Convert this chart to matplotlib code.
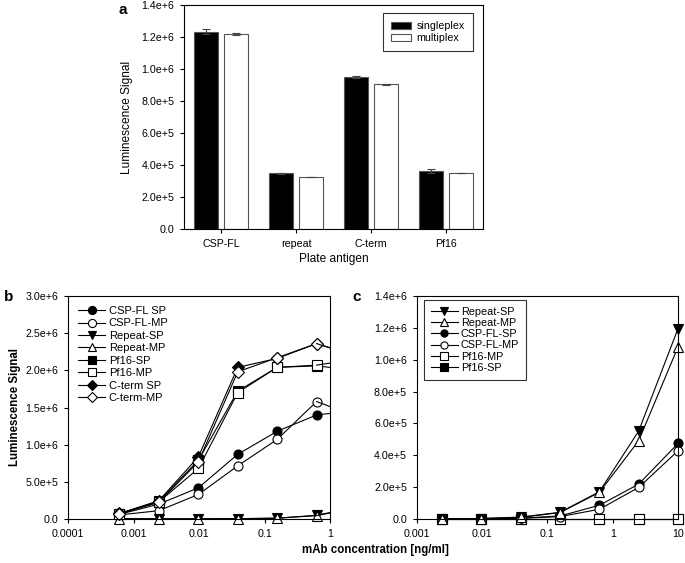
#!/usr/bin/env python3
"""
Singleplex vs multiplex luminescence assay: bar chart (a) and titration curves (b, c)
"""

import numpy as np
import matplotlib
matplotlib.use('Agg')
import matplotlib.pyplot as plt
from matplotlib.ticker import FuncFormatter, MultipleLocator, FixedLocator

plt.rcParams['font.family'] = ['Liberation Sans', 'DejaVu Sans']

# panel a - plate antigens
antigens = ['CSP-FL', 'repeat', 'C-term', 'Pf16']
single_vals = [1.233e6, 3.48e5, 9.50e5, 3.60e5]
single_err = [1.7e4, 4e3, 5e3, 1.2e4]
multi_vals = [1.217e6, 3.26e5, 9.05e5, 3.47e5]
multi_err = [5e3, 0, 4e3, 0]

# panel b - mAb dilution series (last point lies outside the axis)
conc_b = [0.00061, 0.00244, 0.0098, 0.039, 0.156, 0.625, 2.5]
csp_sp_b = [6.3e4, 2.0e5, 4.2e5, 8.7e5, 1.18e6, 1.40e6, 1.46e6]
csp_mp_b = [5.5e4, 1.12e5, 3.3e5, 7.15e5, 1.07e6, 1.58e6, 1.38e6]
rep_sp_b = [5e3, 3e3, 3e3, 5e3, 1.0e4, 5.0e4, 1.6e5]
rep_mp_b = [3e3, 2e3, 2e3, 4e3, 1.2e4, 4.5e4, 1.5e5]
pf_sp_b = [7.0e4, 2.4e5, 7.9e5, 1.72e6, 2.04e6, 2.06e6, 2.00e6]
pf_mp_b = [7.2e4, 2.3e5, 6.8e5, 1.70e6, 2.04e6, 2.07e6, 2.15e6]
ct_sp_b = [7.6e4, 2.46e5, 8.37e5, 2.04e6, 2.16e6, 2.36e6, 2.19e6]
ct_mp_b = [7.0e4, 2.24e5, 7.7e5, 1.98e6, 2.17e6, 2.36e6, 2.19e6]

# panel c
conc_c = [0.00244, 0.0098, 0.039, 0.156, 0.625, 2.5, 10]
rep_sp_c = [1e3, 3e3, 1.2e4, 4.2e4, 1.71e5, 5.52e5, 1.195e6]
rep_mp_c = [1e3, 3e3, 1.0e4, 4.0e4, 1.67e5, 4.91e5, 1.08e6]
csp_sp_c = [0, 1e3, 5e3, 1.9e4, 8.6e4, 2.19e5, 4.74e5]
csp_mp_c = [0, 1e3, 4e3, 1.5e4, 6.1e4, 1.98e5, 4.28e5]
pf_mp_c = [0, 0, 0, 0, 0, 0, 0]
pf_sp_c = [0, 0, 0, 0, 0, 0, 0]

FS = 7.7
LFS = 8.0
LW = 0.8
MS = 6.5


def sci_fmt(v, pos):
    """1.4e+6 style labels"""
    if v == 0:
        return '0.0'
    m, e = f'{v:.1e}'.split('e')
    return f'{m}e{int(e):+d}'


def style_axes(ax):
    for s in ax.spines.values():
        s.set_linewidth(0.8)
    ax.tick_params(direction='out', length=3, width=0.8, labelsize=FS, pad=4)
    ax.tick_params(which='minor', length=0)


def plot_bars(ax):
    x = np.arange(len(antigens))
    w = 0.32
    ekw = dict(ecolor='#444444', capsize=3, elinewidth=0.8, capthick=0.8)
    ax.bar(x - 0.2, single_vals, w, color='black', edgecolor='#555555', linewidth=0.8,
           yerr=single_err, error_kw=ekw, label='singleplex')
    ax.bar(x + 0.2, multi_vals, w, color='white', edgecolor='#555555', linewidth=0.8,
           yerr=multi_err, error_kw=ekw, label='multiplex')
    ax.set_xlim(-0.5, 3.5)
    ax.set_ylim(0, 1.4e6)
    ax.set_xticks(x)
    ax.set_xticklabels(antigens)
    ax.yaxis.set_major_locator(MultipleLocator(2e5))
    ax.yaxis.set_major_formatter(FuncFormatter(sci_fmt))
    ax.set_ylabel('Luminescence Signal', fontsize=8.6, labelpad=6)
    ax.set_xlabel('Plate antigen', fontsize=8.6, labelpad=3)
    style_axes(ax)
    leg = ax.legend(loc='upper right', fontsize=7.7, frameon=True, fancybox=False,
                    edgecolor='black', handlelength=1.9, handleheight=0.6,
                    borderpad=0.75, labelspacing=0.15, handletextpad=0.5,
                    borderaxespad=0, bbox_to_anchor=(0.965, 0.963))
    leg.get_frame().set_linewidth(0.8)


def series(ax, x, y, marker, filled, label, n_in):
    """draw points inside the axis with markers, the outside tail only as a clipped line"""
    fc = 'black' if filled else 'white'
    ms = MS - 0.6 if marker == 'D' else MS
    ax.plot(x[:n_in], y[:n_in], color='black', lw=LW, marker=marker, ms=ms,
            mfc=fc, mec='black', mew=LW, label=label, clip_on=False)
    if n_in < len(x):
        ax.plot(x[n_in - 1:], y[n_in - 1:], color='black', lw=LW)


def log_axis(ax, lo, hi):
    ax.set_xscale('log')
    ax.set_xlim(lo, hi)
    ax.xaxis.set_major_locator(FixedLocator([10.0 ** k for k in range(int(np.log10(lo)), int(np.log10(hi)) + 1)]))
    ax.xaxis.set_major_formatter(FuncFormatter(lambda v, p: f'{v:g}'))
    ax.xaxis.set_minor_locator(FixedLocator([]))


def plot_b(ax):
    n = 6
    series(ax, conc_b, csp_sp_b, 'o', True, 'CSP-FL SP', n)
    series(ax, conc_b, csp_mp_b, 'o', False, 'CSP-FL-MP', n)
    series(ax, conc_b, rep_sp_b, 'v', True, 'Repeat-SP', n)
    series(ax, conc_b, rep_mp_b, '^', False, 'Repeat-MP', n)
    series(ax, conc_b, pf_sp_b, 's', True, 'Pf16-SP', n)
    series(ax, conc_b, pf_mp_b, 's', False, 'Pf16-MP', n)
    series(ax, conc_b, ct_sp_b, 'D', True, 'C-term SP', n)
    series(ax, conc_b, ct_mp_b, 'D', False, 'C-term-MP', n)
    log_axis(ax, 1e-4, 1)
    ax.set_ylim(0, 3e6)
    ax.yaxis.set_major_locator(MultipleLocator(5e5))
    ax.yaxis.set_major_formatter(FuncFormatter(sci_fmt))
    ax.set_ylabel('Luminescence Signal', fontsize=8.3, fontweight='bold', labelpad=3)
    style_axes(ax)
    ax.legend(loc='upper left', fontsize=LFS, frameon=False, numpoints=1,
              markerscale=0.9, handlelength=2.5, labelspacing=0.22, handletextpad=0.3,
              borderaxespad=0, bbox_to_anchor=(0.02, 0.975))


def plot_c(ax):
    n = 7
    # Pf16 lies at zero and sits underneath the other curves
    series(ax, conc_c, pf_sp_c, 's', True, 'Pf16-SP', n)
    series(ax, conc_c, pf_mp_c, 's', False, 'Pf16-MP', n)
    series(ax, conc_c, csp_sp_c, 'o', True, 'CSP-FL-SP', n)
    series(ax, conc_c, csp_mp_c, 'o', False, 'CSP-FL-MP', n)
    series(ax, conc_c, rep_sp_c, 'v', True, 'Repeat-SP', n)
    series(ax, conc_c, rep_mp_c, '^', False, 'Repeat-MP', n)
    log_axis(ax, 1e-3, 10)
    ax.set_ylim(0, 1.4e6)
    ax.yaxis.set_major_locator(MultipleLocator(2e5))
    ax.yaxis.set_major_formatter(FuncFormatter(sci_fmt))
    style_axes(ax)
    handles, labels = ax.get_legend_handles_labels()
    order = ['Repeat-SP', 'Repeat-MP', 'CSP-FL-SP', 'CSP-FL-MP', 'Pf16-MP', 'Pf16-SP']
    hmap = dict(zip(labels, handles))
    leg = ax.legend([hmap[k] for k in order], order, loc='upper left', fontsize=7.8,
                    frameon=True, fancybox=False, edgecolor='black', numpoints=1,
                    markerscale=0.8, handlelength=2.5, labelspacing=0.12, handletextpad=0.3,
                    borderpad=0.6, borderaxespad=0, bbox_to_anchor=(0.028, 0.982))
    leg.get_frame().set_linewidth(0.8)


def main():
    fig = plt.figure(figsize=(6.85, 5.63), dpi=100)
    W, H = 685.0, 563.0

    ax_a = fig.add_axes([184 / W, 1 - 229 / H, 299 / W, 224 / H])
    ax_b = fig.add_axes([68 / W, 1 - 519 / H, 262 / W, 223 / H])
    ax_c = fig.add_axes([416.7 / W, 1 - 519 / H, 261.3 / W, 223 / H])

    plot_bars(ax_a)
    plot_b(ax_b)
    plot_c(ax_c)

    # panel letters and shared x label
    fig.text(123 / W, 1 - 10 / H, 'a', fontsize=11, fontweight='bold', ha='center', va='center')
    fig.text(9 / W, 1 - 297 / H, 'b', fontsize=11, fontweight='bold', ha='center', va='center')
    fig.text(357 / W, 1 - 297 / H, 'c', fontsize=11, fontweight='bold', ha='center', va='center')
    fig.text(375 / W, 1 - 550 / H, 'mAb concentration [ng/ml]', fontsize=8.3,
             fontweight='bold', ha='center', va='center')

    fig.savefig('out.png', dpi=100)


if __name__ == "__main__":
    main()
